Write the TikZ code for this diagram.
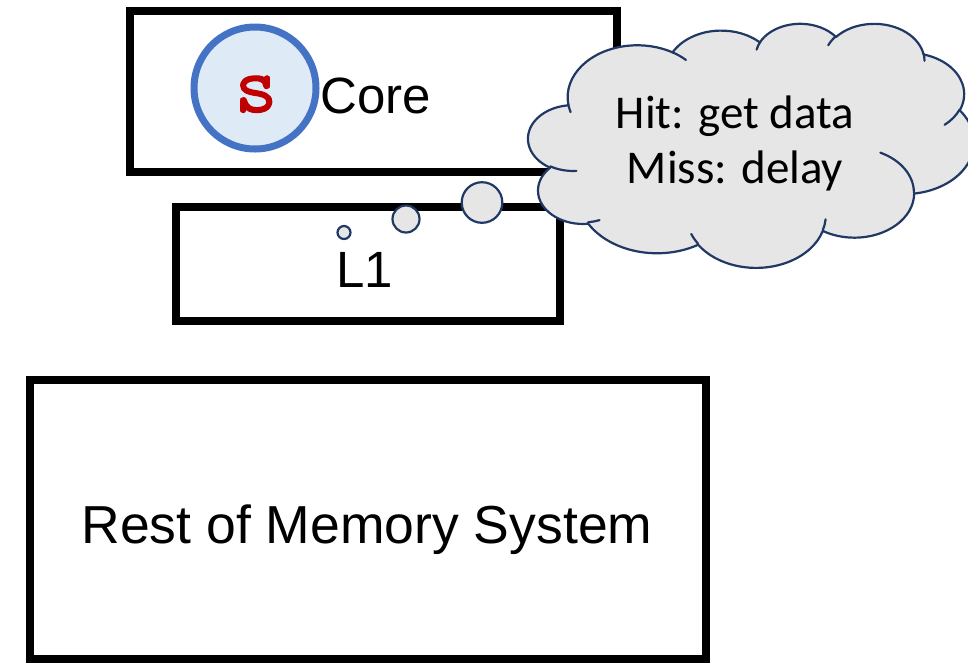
\documentclass[tikz,border=0pt]{standalone}
\usepackage{fontspec}
\setmainfont{Liberation Sans}
\newfontfamily\calibrifont{Carlito}
\newfontfamily\smono[FakeBold=1.6]{Latin Modern Mono}

\definecolor{circfill}{HTML}{DEEBF7}
\definecolor{circline}{HTML}{4472C4}
\definecolor{sred}{HTML}{C00000}
\definecolor{cloudfill}{HTML}{E7E6E6}
\definecolor{cloudline}{HTML}{203864}

% Elliptical arc given DrawingML-style: wR, hR (in 1/43200 of the shape),
% start angle and sweep in degrees (visual angles, clockwise on screen).
\newcommand\cloudarc[4]{%
  \pgfextra{%
    \pgfmathsetmacro\cAs{#3}%
    \pgfmathsetmacro\cAe{#3+#4}%
    \pgfmathsetmacro\cTs{\cAs+mod(atan2(#1*sin(\cAs),#2*cos(\cAs))-\cAs+3780,360)-180}%
    \pgfmathsetmacro\cTe{\cAe+mod(atan2(#1*sin(\cAe),#2*cos(\cAe))-\cAe+3780,360)-180}%
    \pgfmathsetmacro\cRx{#1/432}%
    \pgfmathsetmacro\cRy{#2/432}%
  }%
  arc[start angle=\cTs, end angle=\cTe, x radius=\cRx, y radius=\cRy]%
}

\tikzset{
  box/.style={draw=black, line width=8pt, rectangle, inner sep=0pt},
  bubble/.style={draw=cloudline, fill=cloudfill, line width=2.2pt},
  bigtext/.style={inner sep=0pt, font=\fontsize{51}{60}\selectfont},
  cloudtext/.style={inner sep=0pt, font=\calibrifont\fontsize{47}{55}\selectfont},
}

\begin{document}
\begin{tikzpicture}[x=1pt, y=-1pt]
  \useasboundingbox (0,0) rectangle (968,662);

  % boxes
  \node[box, minimum width=487pt, minimum height=161pt] (core) at (373.5,91.5) {};
  \node[box, minimum width=384pt, minimum height=114pt] (l1) at (368,264) {};
  \node[box, minimum width=676pt, minimum height=279pt] (rest) at (368,519.5) {};

  % core label and the thread circle
  \node[circle, draw=circline, fill=circfill, line width=7pt, minimum size=122pt, inner sep=0pt] (thread) at (255,88) {};
  \node[anchor=base, inner sep=0pt, text=sred, font=\smono\bfseries\fontsize{82}{84}\selectfont] (s) at (256,112) {s};
  \node[bigtext, anchor=base west] (corelbl) at (320,113) {Core};
  \node[bigtext, anchor=base] (l1lbl) at (365,287) {L1};
  \node[bigtext, anchor=base, font=\fontsize{53.5}{60}\selectfont] (restlbl) at (367,543) {Rest of Memory System};

  % thought bubbles
  \node[bubble, circle, minimum size=13pt, inner sep=0pt] (b1) at (344,232.5) {};
  \node[bubble, circle, minimum size=27pt, inner sep=0pt] (b2) at (406,219) {};
  \node[bubble, circle, minimum size=40.6pt, inner sep=0pt] (b3) at (482,202.5) {};

  % cloud
  \begin{scope}[shift={(528pt,-23pt)}, x=4.46pt, y=-2.44pt]
    \filldraw[fill=cloudfill, draw=cloudline, line width=2.2pt, line join=round]
      (9.028,33.264)
      \cloudarc{6753}{9190}{-190.4875}{123.7805}
      \cloudarc{5333}{7267}{-144.1024}{89.9452}
      \cloudarc{4365}{5945}{-145.8079}{99.7230}
      \cloudarc{4857}{6595}{-130.9861}{117.2417}
      \cloudarc{5333}{7273}{-78.7089}{109.0269}
      \cloudarc{6775}{9220}{-46.2673}{130.2690}
      \cloudarc{5785}{7867}{0.6250}{114.0333}
      \cloudarc{6752}{9215}{22.4516}{115.1726}
      \cloudarc{7720}{10543}{66.2426}{75.2167}
      \cloudarc{4360}{5918}{-274.9421}{146.7356}
      \cloudarc{4345}{5945}{-246.8285}{152.5189}
      -- cycle;
    \draw[draw=cloudline, line width=2.2pt, line cap=round]
      (10.863,60.595) \cloudarc{4345}{5945}{86.7420}{26.4295}
      (16.037,80.785) \cloudarc{4360}{5918}{73.6105}{11.4475}
      (38.144,90.486) \cloudarc{6752}{9215}{137.6242}{14.0811}
      (66.729,80.442) \cloudarc{6752}{9215}{6.4533}{15.9984}
      (79.002,53.134) \cloudarc{5785}{7867}{-70.2924}{70.9174}
      (96.755,35.542) \cloudarc{5333}{7273}{30.3180}{27.7515}
      (88.713,12.560) \cloudarc{4857}{6595}{-13.7443}{14.8589}
      (67.310,9.148) \cloudarc{4857}{6595}{-149.1815}{18.1954}
      (51.252,10.926) \cloudarc{4365}{5945}{-163.4943}{17.6864}
      (32.407,12.019) \cloudarc{6753}{9190}{-66.7070}{12.3194}
      (9.553,36.549) \cloudarc{6753}{9190}{157.6544}{11.8582};
  \end{scope}

  \node[cloudtext, anchor=base] (hit) at (735,128) {Hit: get data};
  \node[cloudtext, anchor=base] (miss) at (735,183) {Miss: delay};
\end{tikzpicture}
\end{document}
